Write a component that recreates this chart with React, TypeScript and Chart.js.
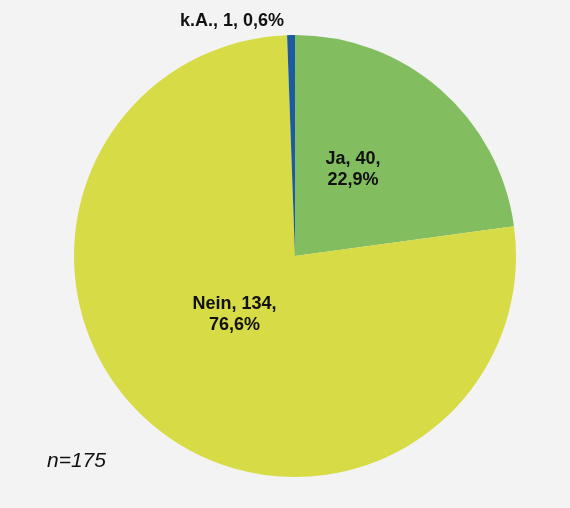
import { useEffect, useRef } from 'react';
import { Chart, registerables } from 'chart.js';

Chart.register(...registerables);

const categories = ['Ja', 'Nein', 'k.A.'];
const counts = [40, 134, 1];
const sliceColors = ['#82bd60', '#d7db45', '#1d5aa0'];
// label anchor per slice: angle (deg, clockwise from top) and distance as fraction of radius
const labelAngles = [34, 226, -15];
const labelDistances = [0.47, 0.38, 1.1];
const labelTwoLines = [true, true, false];

const FONT = '"Liberation Sans", Arial, sans-serif';

const fmtPct = (v: number, total: number) => ((v / total) * 100).toFixed(1).replace('.', ',');

const labelPlugin = {
  id: 'sliceLabels',
  afterDatasetsDraw(chart: Chart) {
    const ctx = chart.ctx;
    const meta = chart.getDatasetMeta(0);
    const total = counts.reduce((a, b) => a + b, 0);
    ctx.save();
    ctx.fillStyle = '#111';
    ctx.font = `bold 18px ${FONT}`;
    ctx.textAlign = 'center';
    ctx.textBaseline = 'middle';
    meta.data.forEach((el: any, i: number) => {
      const a = (labelAngles[i] * Math.PI) / 180;
      const r = el.outerRadius * labelDistances[i];
      const x = el.x + r * Math.sin(a);
      const y = el.y - r * Math.cos(a);
      const pct = `${fmtPct(counts[i], total)}%`;
      if (labelTwoLines[i]) {
        ctx.fillText(`${categories[i]}, ${counts[i]},`, x, y - 10.5);
        ctx.fillText(pct, x, y + 10.5);
      } else {
        ctx.fillText(`${categories[i]}, ${counts[i]}, ${pct}`, x, y);
      }
    });
    ctx.font = `italic 21px ${FONT}`;
    ctx.textAlign = 'left';
    ctx.textBaseline = 'alphabetic';
    ctx.fillText(`n=${total}`, 47, 467);
    ctx.restore();
  },
};

export default function App() {
  const canvasRef = useRef<HTMLCanvasElement>(null);
  const chartRef = useRef<Chart | null>(null);

  useEffect(() => {
    document.body.style.margin = '0';
    document.body.style.background = '#f3f3f3';
    if (!canvasRef.current) return;
    chartRef.current?.destroy();
    chartRef.current = new Chart(canvasRef.current, {
      type: 'pie',
      data: {
        labels: categories,
        datasets: [{
          data: counts,
          backgroundColor: sliceColors,
          borderWidth: 0,
        }],
      },
      options: {
        responsive: false,
        animation: false,
        layout: { padding: { top: 35, bottom: 31, left: 74, right: 54 } },
        plugins: { legend: { display: false }, tooltip: { enabled: false } },
      },
      plugins: [labelPlugin],
    });
    return () => chartRef.current?.destroy();
  }, []);

  return (
    <div style={{ width: 570, height: 508, background: '#f3f3f3' }}>
      <canvas ref={canvasRef} width={570} height={508} />
    </div>
  );
}
